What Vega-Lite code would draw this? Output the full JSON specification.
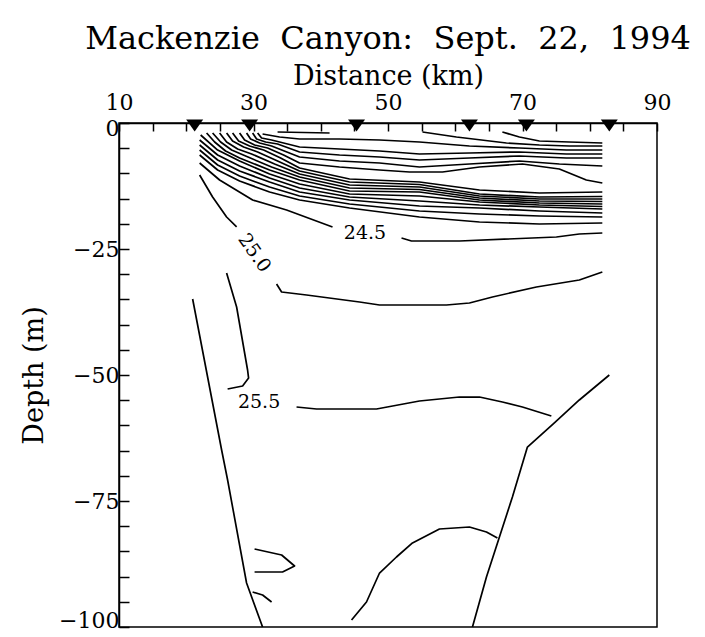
{
  "$schema": "https://vega.github.io/schema/vega-lite/v6.json",
  "width": 538,
  "height": 504,
  "autosize": {"type": "none"},
  "padding": {"left": 119, "top": 123, "right": 48, "bottom": 10},
  "background": "white",
  "config": {
    "font": "DejaVu Serif",
    "view": {"stroke": "black", "strokeWidth": 1.5},
    "axis": {
      "grid": false,
      "domainColor": "black",
      "domainWidth": 1.5,
      "tickColor": "black",
      "tickWidth": 1.5,
      "labelColor": "black",
      "titleColor": "black",
      "labelFontSize": 22,
      "titleFontSize": 27,
      "titleFontWeight": "normal",
      "labelFlush": false,
      "labelOverlap": false
    }
  },
  "title": {
    "text": "Mackenzie\u00a0 Canyon:\u00a0 Sept.\u00a0 22,\u00a0 1994",
    "fontSize": 32,
    "fontWeight": "normal",
    "color": "black",
    "anchor": "middle",
    "offset": 6
  },
  "encoding": {
    "x": {
      "field": "x",
      "type": "quantitative",
      "scale": {"domain": [10, 90], "nice": false, "zero": false},
      "axis": {
        "orient": "top",
        "title": "Distance (km)",
        "values": [10, 15, 20, 25, 30, 35, 40, 45, 50, 55, 60, 65, 70, 75, 80, 85, 90],
        "labelExpr": "(datum.value - 10) % 20 == 0 ? datum.label : ''",
        "tickSize": -8,
        "labelPadding": 17,
        "titlePadding": 1
      }
    },
    "y": {
      "field": "y",
      "type": "quantitative",
      "scale": {"domain": [-100, 0], "nice": false, "zero": false},
      "axis": {
        "title": "Depth (m)",
        "values": [-100, -95, -90, -85, -80, -75, -70, -65, -60, -55, -50, -45, -40, -35, -30, -25, -20, -15, -10, -5, 0],
        "labelExpr": "datum.value % 25 == 0 ? datum.label : ''",
        "tickSize": -10,
        "labelPadding": 10,
        "labelFlush": true,
        "labelFlushOffset": 5,
        "titlePadding": 10
      }
    }
  },
  "layer": [
    {
      "data": {
        "values": [
          {"c": "T1", "o": 0, "x": 33.58, "y": -1.79}, {"c": "T1", "o": 1, "x": 41.31, "y": -1.98},
          {"c": "U1", "o": 0, "x": 67.01, "y": -1.79}, {"c": "U1", "o": 1, "x": 69.54, "y": -2.78}, {"c": "U1", "o": 2, "x": 72.51, "y": -3.57}, {"c": "U1", "o": 3, "x": 76.97, "y": -3.77}, {"c": "U1", "o": 4, "x": 81.87, "y": -3.97},
          {"c": "U2", "o": 0, "x": 55.13, "y": -1.79}, {"c": "U2", "o": 1, "x": 60.18, "y": -2.78}, {"c": "U2", "o": 2, "x": 67.61, "y": -3.97}, {"c": "U2", "o": 3, "x": 72.51, "y": -4.37}, {"c": "U2", "o": 4, "x": 76.97, "y": -4.56}, {"c": "U2", "o": 5, "x": 81.87, "y": -4.56},
          {"c": "U3", "o": 0, "x": 31.35, "y": -2.18}, {"c": "U3", "o": 1, "x": 33.88, "y": -2.78}, {"c": "U3", "o": 2, "x": 36.85, "y": -3.17}, {"c": "U3", "o": 3, "x": 42.79, "y": -3.17}, {"c": "U3", "o": 4, "x": 48.74, "y": -3.37}, {"c": "U3", "o": 5, "x": 54.68, "y": -3.77}, {"c": "U3", "o": 6, "x": 62.11, "y": -4.56}, {"c": "U3", "o": 7, "x": 69.54, "y": -4.96}, {"c": "U3", "o": 8, "x": 76.52, "y": -5.36}, {"c": "U3", "o": 9, "x": 81.87, "y": -5.36},
          {"c": "U4", "o": 0, "x": 30.61, "y": -1.98}, {"c": "U4", "o": 1, "x": 31.2, "y": -2.98}, {"c": "U4", "o": 2, "x": 32.69, "y": -3.37}, {"c": "U4", "o": 3, "x": 36.85, "y": -4.76}, {"c": "U4", "o": 4, "x": 42.79, "y": -5.16}, {"c": "U4", "o": 5, "x": 48.74, "y": -5.56}, {"c": "U4", "o": 6, "x": 54.68, "y": -6.15}, {"c": "U4", "o": 7, "x": 62.11, "y": -5.95}, {"c": "U4", "o": 8, "x": 69.54, "y": -5.75}, {"c": "U4", "o": 9, "x": 76.52, "y": -6.15}, {"c": "U4", "o": 10, "x": 81.87, "y": -6.15},
          {"c": "U5", "o": 0, "x": 29.87, "y": -1.98}, {"c": "U5", "o": 1, "x": 30.46, "y": -3.17}, {"c": "U5", "o": 2, "x": 31.8, "y": -3.77}, {"c": "U5", "o": 3, "x": 33.58, "y": -4.17}, {"c": "U5", "o": 4, "x": 36.85, "y": -5.75}, {"c": "U5", "o": 5, "x": 42.79, "y": -6.35}, {"c": "U5", "o": 6, "x": 48.74, "y": -6.75}, {"c": "U5", "o": 7, "x": 54.68, "y": -7.34}, {"c": "U5", "o": 8, "x": 62.11, "y": -6.94}, {"c": "U5", "o": 9, "x": 69.54, "y": -6.55}, {"c": "U5", "o": 10, "x": 76.52, "y": -6.94}, {"c": "U5", "o": 11, "x": 81.87, "y": -6.94},
          {"c": "U6", "o": 0, "x": 28.97, "y": -1.98}, {"c": "U6", "o": 1, "x": 29.57, "y": -3.17}, {"c": "U6", "o": 2, "x": 30.91, "y": -3.97}, {"c": "U6", "o": 3, "x": 32.69, "y": -4.56}, {"c": "U6", "o": 4, "x": 36.85, "y": -6.75}, {"c": "U6", "o": 5, "x": 42.79, "y": -7.54}, {"c": "U6", "o": 6, "x": 48.74, "y": -7.94}, {"c": "U6", "o": 7, "x": 54.68, "y": -8.73}, {"c": "U6", "o": 8, "x": 62.11, "y": -8.13}, {"c": "U6", "o": 9, "x": 69.54, "y": -7.54}, {"c": "U6", "o": 10, "x": 75.48, "y": -8.13}, {"c": "U6", "o": 11, "x": 81.87, "y": -8.53},
          {"c": "U7", "o": 0, "x": 27.93, "y": -1.98}, {"c": "U7", "o": 1, "x": 28.68, "y": -3.37}, {"c": "U7", "o": 2, "x": 30.16, "y": -4.37}, {"c": "U7", "o": 3, "x": 32.1, "y": -4.96}, {"c": "U7", "o": 4, "x": 34.47, "y": -6.35}, {"c": "U7", "o": 5, "x": 36.85, "y": -7.94}, {"c": "U7", "o": 6, "x": 42.79, "y": -8.73}, {"c": "U7", "o": 7, "x": 48.74, "y": -9.33}, {"c": "U7", "o": 8, "x": 53.2, "y": -9.72}, {"c": "U7", "o": 9, "x": 58.1, "y": -9.72}, {"c": "U7", "o": 10, "x": 63.6, "y": -8.73}, {"c": "U7", "o": 11, "x": 69.99, "y": -8.13}, {"c": "U7", "o": 12, "x": 75.48, "y": -9.13}, {"c": "U7", "o": 13, "x": 79.49, "y": -11.31}, {"c": "U7", "o": 14, "x": 81.87, "y": -11.9},
          {"c": "j9", "o": 0, "x": 26.89, "y": -1.98}, {"c": "j9", "o": 1, "x": 27.79, "y": -3.57}, {"c": "j9", "o": 2, "x": 29.42, "y": -4.56}, {"c": "j9", "o": 3, "x": 31.5, "y": -5.36}, {"c": "j9", "o": 4, "x": 34.03, "y": -6.94}, {"c": "j9", "o": 5, "x": 36.85, "y": -8.93}, {"c": "j9", "o": 6, "x": 44.28, "y": -11.11}, {"c": "j9", "o": 7, "x": 54.68, "y": -11.71}, {"c": "j9", "o": 8, "x": 63.6, "y": -13.29}, {"c": "j9", "o": 9, "x": 72.51, "y": -13.89}, {"c": "j9", "o": 10, "x": 81.87, "y": -13.69},
          {"c": "j8", "o": 0, "x": 26.0, "y": -1.98}, {"c": "j8", "o": 1, "x": 26.89, "y": -3.57}, {"c": "j8", "o": 2, "x": 28.53, "y": -4.76}, {"c": "j8", "o": 3, "x": 30.61, "y": -5.75}, {"c": "j8", "o": 4, "x": 33.58, "y": -7.54}, {"c": "j8", "o": 5, "x": 36.85, "y": -9.52}, {"c": "j8", "o": 6, "x": 44.28, "y": -11.71}, {"c": "j8", "o": 7, "x": 54.68, "y": -12.2}, {"c": "j8", "o": 8, "x": 63.6, "y": -14.09}, {"c": "j8", "o": 9, "x": 72.51, "y": -14.68}, {"c": "j8", "o": 10, "x": 81.87, "y": -14.58},
          {"c": "j7", "o": 0, "x": 24.96, "y": -1.98}, {"c": "j7", "o": 1, "x": 26.0, "y": -3.77}, {"c": "j7", "o": 2, "x": 27.64, "y": -5.16}, {"c": "j7", "o": 3, "x": 29.72, "y": -6.15}, {"c": "j7", "o": 4, "x": 33.14, "y": -8.13}, {"c": "j7", "o": 5, "x": 36.85, "y": -10.12}, {"c": "j7", "o": 6, "x": 44.28, "y": -12.3}, {"c": "j7", "o": 7, "x": 54.68, "y": -12.7}, {"c": "j7", "o": 8, "x": 63.6, "y": -14.48}, {"c": "j7", "o": 9, "x": 72.51, "y": -15.08}, {"c": "j7", "o": 10, "x": 81.87, "y": -15.08},
          {"c": "j6", "o": 0, "x": 23.92, "y": -1.98}, {"c": "j6", "o": 1, "x": 25.11, "y": -3.77}, {"c": "j6", "o": 2, "x": 26.75, "y": -5.36}, {"c": "j6", "o": 3, "x": 28.83, "y": -6.55}, {"c": "j6", "o": 4, "x": 32.69, "y": -8.73}, {"c": "j6", "o": 5, "x": 36.85, "y": -10.71}, {"c": "j6", "o": 6, "x": 44.28, "y": -12.9}, {"c": "j6", "o": 7, "x": 54.68, "y": -13.19}, {"c": "j6", "o": 8, "x": 63.6, "y": -14.88}, {"c": "j6", "o": 9, "x": 72.51, "y": -15.48}, {"c": "j6", "o": 10, "x": 81.87, "y": -15.58},
          {"c": "j5", "o": 0, "x": 23.03, "y": -1.98}, {"c": "j5", "o": 1, "x": 24.22, "y": -3.77}, {"c": "j5", "o": 2, "x": 25.85, "y": -5.56}, {"c": "j5", "o": 3, "x": 27.93, "y": -6.94}, {"c": "j5", "o": 4, "x": 32.39, "y": -9.33}, {"c": "j5", "o": 5, "x": 36.85, "y": -11.31}, {"c": "j5", "o": 6, "x": 44.28, "y": -13.49}, {"c": "j5", "o": 7, "x": 54.68, "y": -13.69}, {"c": "j5", "o": 8, "x": 63.6, "y": -15.28}, {"c": "j5", "o": 9, "x": 72.51, "y": -15.87}, {"c": "j5", "o": 10, "x": 81.87, "y": -16.07},
          {"c": "j4", "o": 0, "x": 22.14, "y": -2.38}, {"c": "j4", "o": 1, "x": 24.67, "y": -5.36}, {"c": "j4", "o": 2, "x": 27.93, "y": -7.54}, {"c": "j4", "o": 3, "x": 32.39, "y": -10.12}, {"c": "j4", "o": 4, "x": 36.85, "y": -12.1}, {"c": "j4", "o": 5, "x": 44.28, "y": -14.09}, {"c": "j4", "o": 6, "x": 54.68, "y": -14.48}, {"c": "j4", "o": 7, "x": 63.6, "y": -15.67}, {"c": "j4", "o": 8, "x": 72.51, "y": -16.27}, {"c": "j4", "o": 9, "x": 81.87, "y": -16.57},
          {"c": "j3", "o": 0, "x": 21.99, "y": -3.37}, {"c": "j3", "o": 1, "x": 24.67, "y": -6.35}, {"c": "j3", "o": 2, "x": 27.93, "y": -8.53}, {"c": "j3", "o": 3, "x": 32.39, "y": -10.91}, {"c": "j3", "o": 4, "x": 36.85, "y": -12.9}, {"c": "j3", "o": 5, "x": 44.28, "y": -14.68}, {"c": "j3", "o": 6, "x": 54.68, "y": -15.48}, {"c": "j3", "o": 7, "x": 63.6, "y": -16.27}, {"c": "j3", "o": 8, "x": 72.51, "y": -16.67}, {"c": "j3", "o": 9, "x": 81.87, "y": -17.06},
          {"c": "j2", "o": 0, "x": 21.99, "y": -4.37}, {"c": "j2", "o": 1, "x": 24.67, "y": -7.34}, {"c": "j2", "o": 2, "x": 27.93, "y": -9.52}, {"c": "j2", "o": 3, "x": 32.39, "y": -11.71}, {"c": "j2", "o": 4, "x": 36.85, "y": -13.69}, {"c": "j2", "o": 5, "x": 44.28, "y": -15.28}, {"c": "j2", "o": 6, "x": 54.68, "y": -16.47}, {"c": "j2", "o": 7, "x": 63.6, "y": -16.87}, {"c": "j2", "o": 8, "x": 72.51, "y": -17.46}, {"c": "j2", "o": 9, "x": 81.87, "y": -17.86},
          {"c": "j1", "o": 0, "x": 21.99, "y": -5.36}, {"c": "j1", "o": 1, "x": 24.67, "y": -8.33}, {"c": "j1", "o": 2, "x": 27.93, "y": -10.52}, {"c": "j1", "o": 3, "x": 32.39, "y": -12.7}, {"c": "j1", "o": 4, "x": 36.85, "y": -14.48}, {"c": "j1", "o": 5, "x": 44.28, "y": -16.07}, {"c": "j1", "o": 6, "x": 54.68, "y": -17.46}, {"c": "j1", "o": 7, "x": 63.6, "y": -18.06}, {"c": "j1", "o": 8, "x": 72.51, "y": -18.45}, {"c": "j1", "o": 9, "x": 81.87, "y": -18.65},
          {"c": "j0", "o": 0, "x": 21.99, "y": -6.35}, {"c": "j0", "o": 1, "x": 24.67, "y": -9.33}, {"c": "j0", "o": 2, "x": 27.93, "y": -11.51}, {"c": "j0", "o": 3, "x": 32.39, "y": -13.69}, {"c": "j0", "o": 4, "x": 36.85, "y": -15.28}, {"c": "j0", "o": 5, "x": 44.28, "y": -16.87}, {"c": "j0", "o": 6, "x": 54.68, "y": -18.65}, {"c": "j0", "o": 7, "x": 63.6, "y": -19.64}, {"c": "j0", "o": 8, "x": 72.51, "y": -20.04}, {"c": "j0", "o": 9, "x": 81.87, "y": -19.84},
          {"c": "Ca", "o": 0, "x": 21.99, "y": -7.94}, {"c": "Ca", "o": 1, "x": 24.96, "y": -11.31}, {"c": "Ca", "o": 2, "x": 29.87, "y": -15.28}, {"c": "Ca", "o": 3, "x": 34.92, "y": -17.26}, {"c": "Ca", "o": 4, "x": 41.75, "y": -20.63},
          {"c": "Cb", "o": 0, "x": 52.01, "y": -22.82}, {"c": "Cb", "o": 1, "x": 53.49, "y": -23.41}, {"c": "Cb", "o": 2, "x": 60.62, "y": -23.41}, {"c": "Cb", "o": 3, "x": 75.04, "y": -22.62}, {"c": "Cb", "o": 4, "x": 78.45, "y": -22.02}, {"c": "Cb", "o": 5, "x": 81.87, "y": -21.83},
          {"c": "Fa", "o": 0, "x": 21.99, "y": -10.32}, {"c": "Fa", "o": 1, "x": 23.92, "y": -14.68}, {"c": "Fa", "o": 2, "x": 26.0, "y": -18.65}, {"c": "Fa", "o": 3, "x": 27.49, "y": -20.63},
          {"c": "Fb", "o": 0, "x": 33.43, "y": -31.94}, {"c": "Fb", "o": 1, "x": 34.18, "y": -33.53}, {"c": "Fb", "o": 2, "x": 37.89, "y": -34.13}, {"c": "Fb", "o": 3, "x": 45.77, "y": -35.52}, {"c": "Fb", "o": 4, "x": 48.74, "y": -36.11}, {"c": "Fb", "o": 5, "x": 58.69, "y": -36.11}, {"c": "Fb", "o": 6, "x": 62.11, "y": -35.71}, {"c": "Fb", "o": 7, "x": 65.53, "y": -34.52}, {"c": "Fb", "o": 8, "x": 72.07, "y": -32.54}, {"c": "Fb", "o": 9, "x": 78.45, "y": -31.15}, {"c": "Fb", "o": 10, "x": 81.87, "y": -29.56},
          {"c": "Ga", "o": 0, "x": 26.0, "y": -29.76}, {"c": "Ga", "o": 1, "x": 27.49, "y": -36.51}, {"c": "Ga", "o": 2, "x": 29.12, "y": -49.01}, {"c": "Ga", "o": 3, "x": 29.27, "y": -50.6}, {"c": "Ga", "o": 4, "x": 28.38, "y": -52.18}, {"c": "Ga", "o": 5, "x": 26.15, "y": -52.78},
          {"c": "Gb", "o": 0, "x": 36.4, "y": -56.35}, {"c": "Gb", "o": 1, "x": 39.38, "y": -56.75}, {"c": "Gb", "o": 2, "x": 48.29, "y": -56.75}, {"c": "Gb", "o": 3, "x": 54.68, "y": -55.16}, {"c": "Gb", "o": 4, "x": 60.62, "y": -54.37}, {"c": "Gb", "o": 5, "x": 63.6, "y": -54.37}, {"c": "Gb", "o": 6, "x": 67.01, "y": -55.36}, {"c": "Gb", "o": 7, "x": 69.99, "y": -56.35}, {"c": "Gb", "o": 8, "x": 74.29, "y": -58.13},
          {"c": "A", "o": 0, "x": 20.95, "y": -34.92}, {"c": "A", "o": 1, "x": 25.26, "y": -64.88}, {"c": "A", "o": 2, "x": 26.15, "y": -70.83}, {"c": "A", "o": 3, "x": 28.97, "y": -91.27}, {"c": "A", "o": 4, "x": 31.35, "y": -100},
          {"c": "N", "o": 0, "x": 30.16, "y": -84.52}, {"c": "N", "o": 1, "x": 34.18, "y": -85.71}, {"c": "N", "o": 2, "x": 36.11, "y": -87.9}, {"c": "N", "o": 3, "x": 34.32, "y": -89.09}, {"c": "N", "o": 4, "x": 30.16, "y": -89.09},
          {"c": "S", "o": 0, "x": 29.87, "y": -93.06}, {"c": "S", "o": 1, "x": 31.35, "y": -93.65}, {"c": "S", "o": 2, "x": 32.69, "y": -95.04},
          {"c": "K", "o": 0, "x": 44.58, "y": -98.61}, {"c": "K", "o": 1, "x": 46.8, "y": -95.04}, {"c": "K", "o": 2, "x": 48.74, "y": -89.29}, {"c": "K", "o": 3, "x": 51.26, "y": -86.11}, {"c": "K", "o": 4, "x": 53.64, "y": -83.33}, {"c": "K", "o": 5, "x": 57.65, "y": -80.56}, {"c": "K", "o": 6, "x": 62.11, "y": -80.16}, {"c": "K", "o": 7, "x": 64.64, "y": -81.15}, {"c": "K", "o": 8, "x": 66.27, "y": -82.34},
          {"c": "R", "o": 0, "x": 62.56, "y": -100}, {"c": "R", "o": 1, "x": 64.64, "y": -90.08}, {"c": "R", "o": 2, "x": 66.57, "y": -82.14}, {"c": "R", "o": 3, "x": 68.5, "y": -74.21}, {"c": "R", "o": 4, "x": 70.73, "y": -64.29}, {"c": "R", "o": 5, "x": 74.74, "y": -59.52}, {"c": "R", "o": 6, "x": 78.45, "y": -54.96}, {"c": "R", "o": 7, "x": 82.91, "y": -50}
        ]
      },
      "mark": {"type": "line", "color": "black", "strokeWidth": 1.7, "strokeJoin": "round"},
      "encoding": {
        "detail": {"field": "c", "type": "nominal"},
        "order": {"field": "o", "type": "quantitative"}
      }
    },
    {
      "data": {
        "values": [
          {"t": "24.5", "x": 46.58, "y": -21.83, "a": 0},
          {"t": "25.0", "x": 30.16, "y": -25.79, "a": 55},
          {"t": "25.5", "x": 30.83, "y": -55.36, "a": 0}
        ]
      },
      "mark": {"type": "text", "fontSize": 19, "color": "black", "align": "center", "baseline": "middle"},
      "encoding": {
        "text": {"field": "t", "type": "nominal"},
        "angle": {"field": "a", "type": "quantitative", "scale": null}
      }
    },
    {
      "data": {
        "values": [
          {"x": 21.25, "y": 0}, {"x": 29.42, "y": 0}, {"x": 45.32, "y": 0},
          {"x": 62.11, "y": 0}, {"x": 70.58, "y": 0}, {"x": 82.91, "y": 0}
        ]
      },
      "mark": {"type": "point", "shape": "M-1,-0.4L1,-0.4L0,1Z", "filled": true, "color": "black", "opacity": 1, "size": 289, "strokeWidth": 0}
    }
  ]
}
